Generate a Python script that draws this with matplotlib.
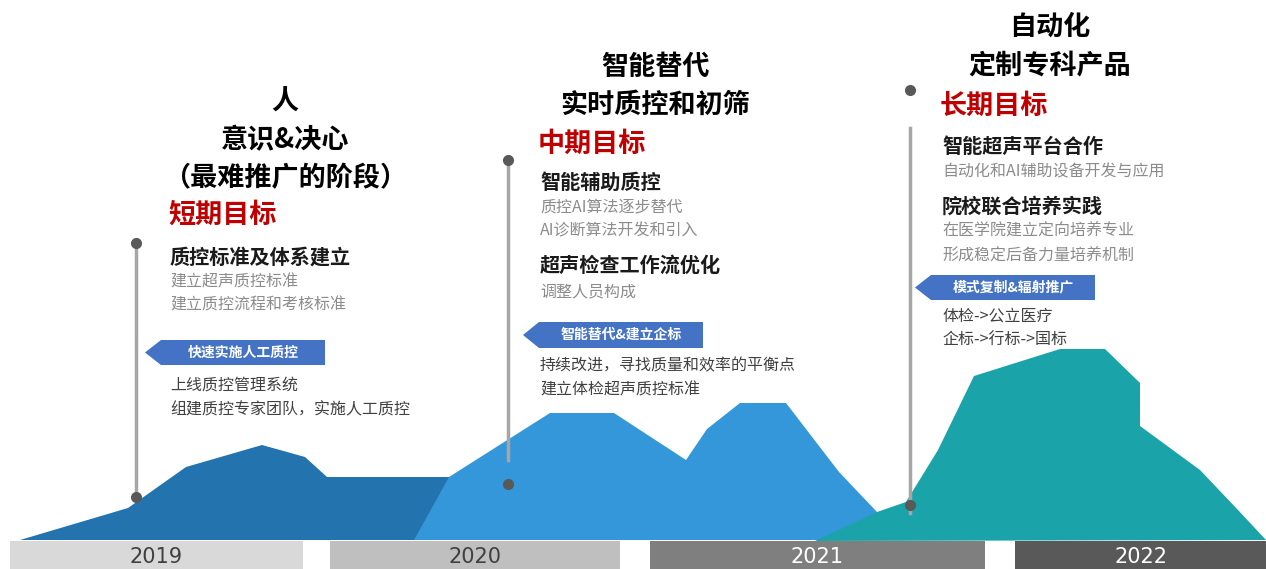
import matplotlib.pyplot as plt
from matplotlib.patches import Polygon, Rectangle

plt.rcParams['font.family'] = ['Noto Sans CJK SC', 'DejaVu Sans']

W, H = 1266, 569

# timeline
YEARS = ['2019', '2020', '2021', '2022']
YEAR_SPANS = [(10, 303), (330, 620), (650, 985), (1015, 1266)]
YEAR_COLORS = ['#d9d9d9', '#bfbfbf', '#7f7f7f', '#595959']
YEAR_TEXT = ['#404040', '#404040', '#ffffff', '#ffffff']

# mountain outlines (x, y in pixel space, y down)
MOUNT_1 = [(20, 540), (128, 508), (186, 467), (262, 445), (305, 457),
           (327, 477), (452, 477), (452, 540)]
MOUNT_2 = [(414, 540), (449, 477), (550, 413), (614, 413), (686, 460),
           (707, 429), (740, 403), (786, 403), (839, 472), (877, 512),
           (915, 540)]
MOUNT_3 = [(815, 541), (877, 512), (906, 502), (938, 450), (974, 376),
           (1060, 349), (1105, 349), (1140, 383), (1140, 426), (1200, 470),
           (1238, 510), (1266, 540)]
MOUNT_COLORS = ['#2273ae', '#3497d9', '#1ba3aa']

# stage text
TITLES = [['人', '意识&决心', '（最难推广的阶段）'],
          ['智能替代', '实时质控和初筛'],
          ['自动化', '定制专科产品']]
GOALS = ['短期目标', '中期目标', '长期目标']
ITEMS = [
    [('质控标准及体系建立', ['建立超声质控标准', '建立质控流程和考核标准'])],
    [('智能辅助质控', ['质控AI算法逐步替代', 'AI诊断算法开发和引入']),
     ('超声检查工作流优化', ['调整人员构成'])],
    [('智能超声平台合作', ['自动化和AI辅助设备开发与应用']),
     ('院校联合培养实践', ['在医学院建立定向培养专业', '形成稳定后备力量培养机制'])],
]
TAGS = ['快速实施人工质控', '智能替代&建立企标', '模式复制&辐射推广']
TAG_LINES = [['上线质控管理系统', '组建质控专家团队，实施人工质控'],
             ['持续改进，寻找质量和效率的平衡点', '建立体检超声质控标准'],
             ['体检->公立医疗', '企标->行标->国标']]

# layout per stage
TITLE_X = [285, 655, 1050]
TITLE_Y0 = [102, 67, 27]
GOAL_Y = [215, 144, 106]
TEXT_X = [170, 540, 942]
ITEM_Y = [[(257, [282, 305])], [(182, [207, 231]), (265, [292])],
          [(146, [172]), (206, [231, 256])]]
TAG_BOX = [(145, 325, 340, 365), (523, 703, 322, 348), (915, 1095, 275, 300)]
TAG_LINE_Y = [[385, 410], [366, 390], [316, 340]]
POLE_X = [136, 508, 910]
POLE_TOP = [243, 160, 90]
POLE_LINE = [(243, 497), (160, 460), (128, 513)]
POLE_DOT = [497, 484, 505]


def main():
    fig = plt.figure(figsize=(W / 100, H / 100), dpi=100)
    ax = fig.add_axes([0, 0, 1, 1])
    ax.set_xlim(0, W)
    ax.set_ylim(H, 0)
    ax.axis('off')

    for pts, c in zip([MOUNT_1, MOUNT_2, MOUNT_3], MOUNT_COLORS):
        ax.add_patch(Polygon(pts, closed=True, facecolor=c, edgecolor='none'))

    for yr, (x0, x1), c, tc in zip(YEARS, YEAR_SPANS, YEAR_COLORS, YEAR_TEXT):
        ax.add_patch(Rectangle((x0, 541), x1 - x0, 28, facecolor=c, edgecolor='none'))
        ax.text((x0 + x1) / 2, 557, yr, color=tc, fontsize=15,
                ha='center', va='center', family=['DejaVu Sans'])

    for i in range(3):
        # pole
        px = POLE_X[i]
        ax.plot([px, px], POLE_LINE[i], color='#a6a6a6', lw=2.5, zorder=3)
        ax.plot([px], [POLE_TOP[i]], 'o', color='#595959', ms=7, zorder=4)
        ax.plot([px], [POLE_DOT[i]], 'o', color='#595959', ms=7, zorder=4)

        for k, t in enumerate(TITLES[i]):
            ax.text(TITLE_X[i], TITLE_Y0[i] + 38 * k, t, fontsize=19.5,
                    fontweight='bold', ha='center', va='center', color='#000000')
        ax.text(TEXT_X[i] - 2, GOAL_Y[i], GOALS[i], fontsize=19.5,
                fontweight='bold', color='#c00000', ha='left', va='center')

        for (head, subs), (hy, sys_) in zip(ITEMS[i], ITEM_Y[i]):
            ax.text(TEXT_X[i], hy, head, fontsize=14.5, fontweight='bold',
                    color='#1a1a1a', ha='left', va='center')
            for s, sy in zip(subs, sys_):
                ax.text(TEXT_X[i], sy, s, fontsize=11.5, color='#8c8c8c',
                        ha='left', va='center')

        x0, x1, y0, y1 = TAG_BOX[i]
        ax.add_patch(Polygon([(x0, (y0 + y1) / 2), (x0 + 16, y0), (x1, y0),
                              (x1, y1), (x0 + 16, y1)], closed=True,
                             facecolor='#4472c4', edgecolor='none', zorder=3))
        ax.text((x0 + 16 + x1) / 2, (y0 + y1) / 2, TAGS[i], fontsize=10,
                fontweight='bold', color='white', ha='center', va='center', zorder=4)

        for s, sy in zip(TAG_LINES[i], TAG_LINE_Y[i]):
            ax.text(TEXT_X[i], sy, s, fontsize=11.5, color='#404040',
                    ha='left', va='center')

    fig.savefig('out.png', dpi=100)


if __name__ == "__main__":
    main()
